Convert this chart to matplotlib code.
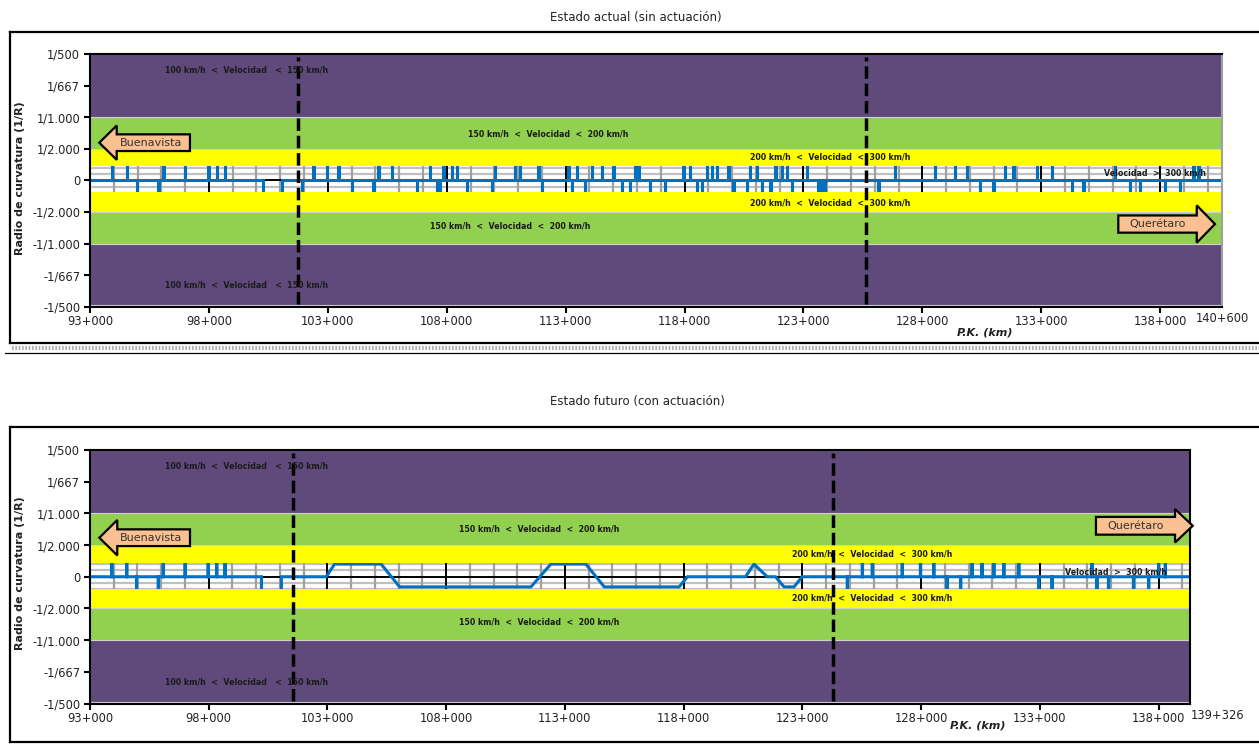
import matplotlib
matplotlib.use("Agg")
import matplotlib.pyplot as plt
from matplotlib.patches import Polygon
from matplotlib.lines import Line2D

# ---------------- data ----------------
y_ticks = [0.002, 0.0015, 0.001, 0.0005, 0.0, -0.0005, -0.001, -0.0015, -0.002]
y_ticklabels = ["1/500", "1/667", "1/1.000", "1/2.000", "0",
                "-1/2.000", "-1/1.000", "-1/667", "-1/500"]
x_ticks = [93, 98, 103, 108, 113, 118, 123, 128, 133, 138]
x_ticklabels = ["93+000", "98+000", "103+000", "108+000", "113+000",
                "118+000", "123+000", "128+000", "133+000", "138+000"]
pk_start = 93.0
pk_end_actual = 140.6
pk_end_future = 139.326
pk_end_label_actual = "140+600"
pk_end_label_future = "139+326"

# speed bands (1/R limits) and colours
band_low = [0.001, 0.0005, 0.00022, -0.0005, -0.001, -0.002]
band_high = [0.002, 0.001, 0.0005, -0.00019, -0.0005, -0.001]
band_color = ["#604A7B", "#92D050", "#FFFF00", "#FFFF00", "#92D050", "#604A7B"]

# curvature of the curves (1/R)
curv_left = 0.00025
curv_right = -0.0005
curve_len = 0.015   # km (short curves)

# Estado actual: short curves
act_left_pk = [93.91, 94.54, 96.08, 97.00, 97.97, 98.33, 98.68, 102.39, 102.95,
               103.44, 105.12, 105.69, 107.30, 107.86, 108.21, 108.42, 110.03,
               110.87, 111.08, 111.85, 113.11, 113.47, 114.10, 114.51, 115.00,
               115.92, 116.06, 117.95, 118.23, 118.93, 119.14, 119.35, 119.84,
               120.75, 121.03, 121.81, 122.08, 122.29, 123.14, 126.85, 128.53,
               129.37, 129.87, 131.48, 131.83, 132.81, 133.44, 136.10, 139.40,
               139.61]
act_right_pk = [94.96, 95.87, 101.90, 104.01, 104.91, 106.74, 107.58, 107.72,
                108.84, 109.89, 111.99, 113.26, 113.82, 115.36, 115.71, 116.55,
                117.18, 118.51, 118.72, 120.05, 120.61, 121.24, 121.60, 122.50,
                123.63, 123.77, 123.91, 126.15, 130.43, 130.99, 134.28, 134.77,
                136.73, 137.15, 138.20, 138.83]
# long curves (start, end)
act_long_right = [(100.29, 101.06)]

# Estado futuro
fut_left_pk = [93.91, 94.54, 96.08, 97.00, 97.97, 98.33, 98.68, 125.52, 125.94,
               127.20, 127.97, 128.53, 130.14, 130.56, 131.06, 131.48, 132.11,
               135.19, 138.00, 138.28]
fut_right_pk = [94.96, 95.87, 124.89, 129.09, 129.66, 132.95, 133.51, 135.40,
                135.89, 136.94, 137.58]
fut_long_right = [(100.22, 101.06)]
# new alignment section (with transitions)
fut_new_pk = [102.95, 103.30, 105.26, 106.04, 111.57, 112.41, 113.88, 114.66,
              117.81, 118.16, 120.61, 120.96, 121.52, 121.87, 122.23, 122.65,
              122.99]
fut_new_curv = [0.0, 0.0002, 0.0002, -0.00016, -0.00016, 0.0002, 0.0002,
                -0.00016, -0.00016, 0.0, 0.0, 0.0002, 0.0, 0.0, -0.00016,
                -0.00016, 0.0]

# limits of the speed sections (dashed lines)
act_limits = [101.75, 125.63]
fut_limits = [101.54, 124.29]

# speed band labels: (text, pk, 1/R)
lbl_100 = "100 km/h  <  Velocidad   <  150 km/h"
lbl_150 = "150 km/h  <  Velocidad  <  200 km/h"
lbl_200 = "200 km/h  <  Velocidad  <  300 km/h"
lbl_300 = "Velocidad  >  300 km/h"
act_labels = [(lbl_100, 99.6, 0.00175), (lbl_100, 99.6, -0.00166),
              (lbl_150, 112.26, 0.00073), (lbl_150, 110.66, -0.00072),
              (lbl_200, 124.12, 0.00037), (lbl_200, 124.12, -0.00036),
              (lbl_300, 137.79, 0.00012)]
fut_labels = [(lbl_100, 99.6, 0.00175), (lbl_100, 99.6, -0.00166),
              (lbl_150, 111.92, 0.00075), (lbl_150, 111.92, -0.00071),
              (lbl_200, 125.93, 0.00036), (lbl_200, 125.93, -0.00034),
              (lbl_300, 136.19, 0.00008)]

# ---------------- figure ----------------
W, H = 1259, 744
fig = plt.figure(figsize=(W / 100, H / 100), dpi=100)
plt.rcParams["font.family"] = ["DejaVu Sans"]

BLUE = "#0070C0"
PEACH = "#FAC090"
TXT = "#222222"


def fx(px):
    return px / W


def fy(py):
    return 1 - py / H


def build_profile(xmin, xmax, left_pk, right_pk, long_right, poly=None):
    segs = []
    for p in left_pk:
        segs.append([(p, 0), (p, curv_left), (p + curve_len, curv_left), (p + curve_len, 0)])
    for p in right_pk:
        segs.append([(p, 0), (p, curv_right), (p + curve_len, curv_right), (p + curve_len, 0)])
    for s, e in long_right:
        segs.append([(s, 0), (s, curv_right), (e, curv_right), (e, 0)])
    if poly is not None:
        segs.append(list(zip(poly[0], poly[1])))
    segs.sort(key=lambda s: s[0][0])
    xs, ys = [xmin], [0.0]
    for s in segs:
        for x, y in s:
            xs.append(x)
            ys.append(y)
    xs.append(xmax)
    ys.append(0.0)
    return xs, ys


def arrow(ax, direction, x0, x1, xtip, yc, bh, hh, text):
    # x0: body start, x1: head base, xtip: tip (axes fraction)
    if direction == "left":
        pts = [(xtip, yc), (x1, yc + hh), (x1, yc + bh), (x0, yc + bh),
               (x0, yc - bh), (x1, yc - bh), (x1, yc - hh)]
        tx = (x1 + x0) / 2 - 0.002
    else:
        pts = [(x0, yc + bh), (x1, yc + bh), (x1, yc + hh), (xtip, yc),
               (x1, yc - hh), (x1, yc - bh), (x0, yc - bh)]
        tx = (x0 + x1) / 2
    poly = Polygon(pts, closed=True, transform=ax.transAxes, facecolor=PEACH,
                   edgecolor="black", lw=1.6, zorder=6, clip_on=False,
                   joinstyle="miter")
    ax.add_patch(poly)
    ax.text(tx, yc, text, transform=ax.transAxes, ha="center", va="center",
            fontsize=8, color="#333333", zorder=7, clip_on=False)


def setup_axes(ax, xmax, profile, limits, labels, right_spine_color):
    ax.set_xlim(pk_start, xmax)
    ax.set_ylim(-0.002, 0.002)
    ax.set_facecolor("white")
    # gridlines
    km = int(pk_start)
    while km <= xmax:
        major = (km - 93) % 5 == 0
        ax.axvline(km, color="black" if major else "#A0A0A0",
                   lw=1.4 if major else 1.6, zorder=0.5)
        km += 1
    for v in [-0.0002, -0.0001, 0.0001, 0.0002]:
        ax.axhline(v, color="#C0C0C0", lw=1.6, zorder=0.4)
    ax.axhline(0, color="black", lw=1.4, zorder=0.6)
    # curvature line (behind the bands)
    ax.plot(profile[0], profile[1], color=BLUE, lw=2.2, zorder=1,
            solid_joinstyle="miter", clip_on=True)
    # bands
    for lo, hi, c in zip(band_low, band_high, band_color):
        ax.axhspan(lo, hi, color=c, lw=0, zorder=2)
    for v in [0.001, 0.0005, -0.0005, -0.001, -0.00198]:
        ax.axhline(v, color="#D0D0D0", lw=0.8, zorder=2.5)
    # dashed limits
    for p in limits:
        ax.axvline(p, ymin=0.01, ymax=0.99, color="black", lw=2.5,
                   dashes=(3.6, 1.4), zorder=4)
    # band labels
    for t, x, y in labels:
        ax.text(x, y, t, ha="center", va="center", fontsize=5.7,
                fontweight="bold", color="#1a1a1a", zorder=5)
    # axes
    ax.set_yticks(y_ticks)
    ax.set_yticklabels(y_ticklabels, fontsize=8.3, color=TXT)
    ax.set_xticks(x_ticks)
    ax.set_xticklabels(x_ticklabels, fontsize=8.3, color=TXT)
    ax.tick_params(axis="both", direction="out", length=4, width=1.5,
                   color="black", pad=3)
    ax.tick_params(axis="x", pad=2)
    for s in ["left", "bottom", "top"]:
        ax.spines[s].set_color("black")
        ax.spines[s].set_linewidth(1.5)
        ax.spines[s].set_zorder(3)
    ax.spines["right"].set_color(right_spine_color)
    ax.spines["right"].set_linewidth(1.5)
    ax.spines["right"].set_zorder(3)


# ---------- top chart ----------
ax1 = fig.add_axes([fx(90), fy(306.7), fx(1222 - 90), (306.7 - 54) / H])
prof1 = build_profile(pk_start, pk_end_actual, act_left_pk, act_right_pk, act_long_right)
setup_axes(ax1, pk_end_actual, prof1, act_limits, act_labels, "#A0A0A0")
ax1.text(pk_end_actual, -0.00219, pk_end_label_actual, ha="center", va="center",
         fontsize=8.3, color=TXT)
arrow(ax1, "left", 0.0883, 0.0236, 0.0082, 0.649, 0.033, 0.068, "Buenavista")
arrow(ax1, "right", 0.9084, 0.9777, 0.9938, 0.327, 0.034, 0.074, "Querétaro")

# ---------- bottom chart ----------
ax2 = fig.add_axes([fx(90), fy(703.5), fx(1190 - 90), (703.5 - 450) / H])
prof2 = build_profile(pk_start, pk_end_future, fut_left_pk, fut_right_pk,
                      fut_long_right, (fut_new_pk, fut_new_curv))
setup_axes(ax2, pk_end_future, prof2, fut_limits, fut_labels, "black")
ax2.text(pk_end_future + 0.05, -0.00219, pk_end_label_future, ha="left", va="center",
         fontsize=8.3, color=TXT)
arrow(ax2, "left", 0.0909, 0.0248, 0.0085, 0.654, 0.033, 0.070, "Buenavista")
arrow(ax2, "right", 0.9145, 0.9864, 1.0025, 0.701, 0.035, 0.066, "Querétaro")

# ---------- titles and labels ----------
fig.text(fx(635.5), fy(17), "Estado actual (sin actuación)", ha="center",
         va="center", fontsize=8.5, color=TXT)
fig.text(fx(637), fy(402), "Estado futuro (con actuación)", ha="center",
         va="center", fontsize=8.5, color=TXT)
for yc in [178, 573]:
    fig.text(fx(20), fy(yc), "Radio de curvatura (1/R)", rotation=90,
             ha="center", va="center", fontsize=8, fontweight="bold", color=TXT)
fig.text(fx(985), fy(333), "P.K. (km)", ha="center", va="center", fontsize=8,
         fontweight="bold", style="italic", color=TXT)
fig.text(fx(978), fy(725), "P.K. (km)", ha="center", va="center", fontsize=8,
         fontweight="bold", style="italic", color=TXT)

# ---------- chart frames ----------
def fline(x0, y0, x1, y1, **kw):
    fig.add_artist(Line2D([fx(x0), fx(x1)], [fy(y0), fy(y1)],
                          transform=fig.transFigure, **kw))

# top frame
fline(10, 31.7, 1262, 31.7, color="black", lw=1.6)
fline(10, 31.7, 10, 343.3, color="black", lw=1.6)
fline(10, 343.3, 1262, 343.3, color="black", lw=1.6)
fline(12, 347.5, 1262, 347.5, color="#B0B0B0", lw=3, linestyle=(0, (0.4, 0.4)))
fline(5, 353, 1262, 353, color="black", lw=0.9)
# bottom frame
fline(10, 426.7, 1262, 426.7, color="black", lw=1.6)
fline(10, 426.7, 10, 741.5, color="black", lw=1.6)
fline(10, 741.5, 1262, 741.5, color="black", lw=1.6)

fig.savefig("out.png", dpi=100)
